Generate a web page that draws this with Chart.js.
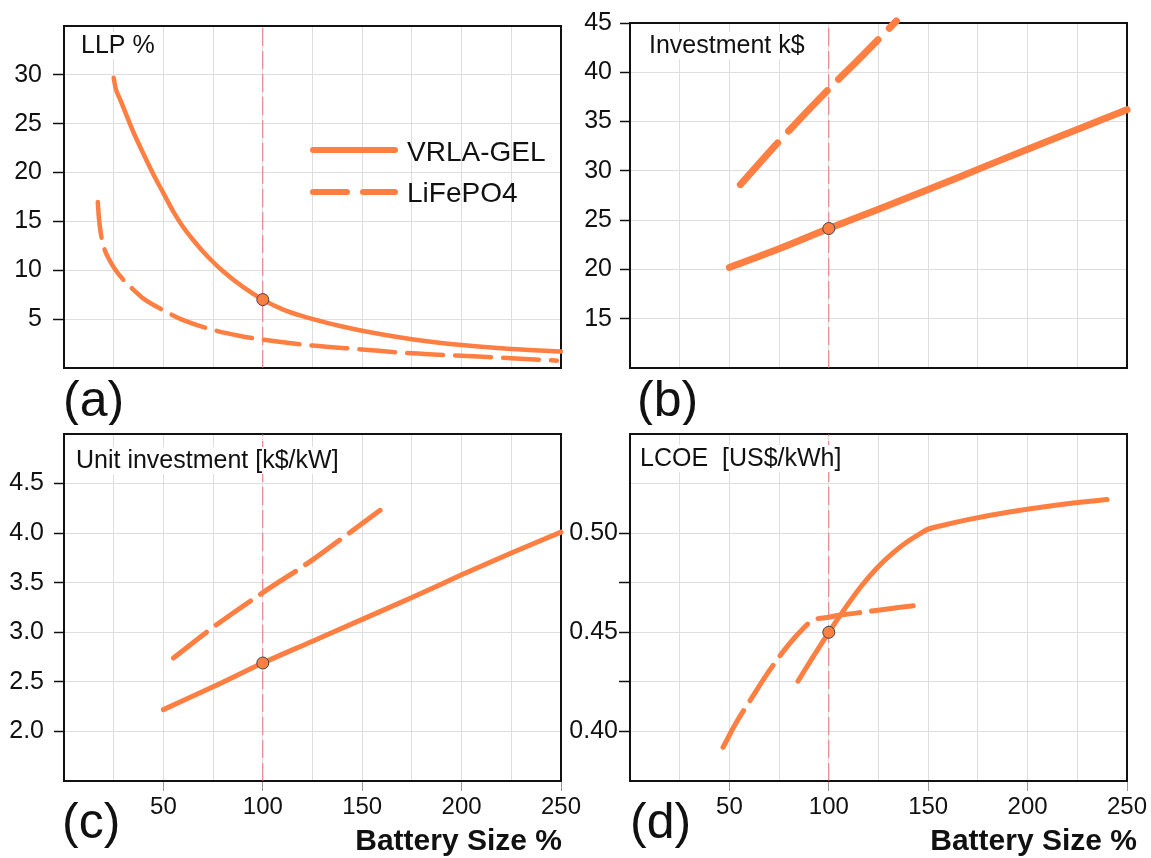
<!DOCTYPE html>
<html>
<head>
<meta charset="utf-8">
<script src="https://cdn.jsdelivr.net/npm/chart.js@4.4.0/dist/chart.umd.min.js"></script>
<style>
  html, body { margin: 0; padding: 0; background: #ffffff; }
  #wrap { position: relative; width: 1151px; height: 858px; overflow: hidden; background: #fff; }
  canvas { position: absolute; }
</style>
</head>
<body>
<div id="wrap">
  <canvas id="ca" width="600" height="425" style="left:0px;top:0px"></canvas>
  <canvas id="cb" width="591" height="425" style="left:560px;top:0px"></canvas>
  <canvas id="cc" width="600" height="453" style="left:0px;top:405px"></canvas>
  <canvas id="cd" width="591" height="453" style="left:560px;top:405px"></canvas>
</div>
<script>
// ---------------- data ----------------
const seriesNames = ['VRLA-GEL', 'LiFePO4'];
const sizeTicks = [50, 100, 150, 200, 250];   // Battery Size % labels
const refSize = 100;                          // reference battery size

// (a) LLP %
const llpTicks = [5, 10, 15, 20, 25, 30];
const llpVrlaSize = [25, 26, 28, 30, 35, 40, 45, 50, 55, 60, 65, 70, 75, 80, 90, 100, 110, 120, 130, 140, 150, 175, 200, 225, 250];
const llpVrla     = [29.7, 28.6, 27.6, 26.6, 24.1, 21.9, 19.8, 17.9, 16.0, 14.4, 13.1, 11.9, 10.85, 9.9, 8.3, 7.0, 6.0, 5.3, 4.75, 4.25, 3.82, 2.95, 2.35, 1.95, 1.7];
const llpLfpSize  = [17, 17.5, 18.5, 20, 23, 26, 30, 35, 40, 50, 60, 75, 88, 100, 125, 150, 175, 200, 225, 248];
const llpLfp      = [17.0, 15.5, 13.8, 12.4, 11.0, 10.0, 9.0, 8.0, 7.1, 5.9, 4.9, 3.9, 3.3, 2.9, 2.3, 1.9, 1.5, 1.25, 1.0, 0.75];

// (b) Investment k$
const invTicks = [15, 20, 25, 30, 35, 40, 45];
const invVrlaSize = [50, 75, 100, 125, 150, 175, 200, 225, 250];
const invVrla     = [20.2, 22.1, 24.15, 26.1, 28.1, 30.15, 32.2, 34.2, 36.2];
const invLfpSize  = [55.5, 75, 100, 116, 134];
const invLfp      = [28.6, 33.0, 38.3, 41.5, 45.2];

// (c) Unit investment [k$/kW]
const unitTicks = [2.0, 2.5, 3.0, 3.5, 4.0, 4.5];
const unitVrlaSize = [50, 75, 100, 125, 150, 175, 200, 225, 250];
const unitVrla     = [2.22, 2.45, 2.69, 2.91, 3.13, 3.35, 3.58, 3.80, 4.01];
const unitLfpSize  = [55, 75, 100, 125, 140, 159];
const unitLfp      = [2.74, 3.05, 3.40, 3.73, 3.95, 4.23];

// (d) LCOE [US$/kWh]
const lcoeTicks = [0.40, 0.45, 0.50];
const lcoeMinorTicks = [0.425, 0.475];
const lcoeVrlaSize = [84.5, 92, 100, 108, 116, 124, 132, 140, 146, 150, 156, 170, 190, 215, 240];
const lcoeVrla     = [0.4254, 0.4375, 0.4500, 0.4618, 0.4728, 0.4822, 0.4898, 0.4960, 0.4998, 0.5020, 0.5036, 0.5068, 0.5105, 0.5142, 0.517];
const lcoeLfpSize  = [46.8, 53.6, 61, 70, 79.5, 87, 91.5, 100, 107, 120, 135, 145];
const lcoeLfp      = [0.392, 0.4047, 0.4165, 0.4305, 0.4434, 0.4518, 0.4558, 0.4576, 0.4588, 0.4605, 0.4625, 0.4637];

// ---------------- style ----------------
const FONT = "'Liberation Sans', Arial, Helvetica, sans-serif";
const ORANGE = '#FF7F43';
const REF_RED = 'rgba(236,95,95,0.85)';
const GRID = '#dedede';
const INK = '#111111';

function pts(xs, ys) { return xs.map((x, i) => ({ x: x, y: ys[i] })); }
function inSet(set, v) { return set.some(s => Math.abs(s - v) < 1e-9); }

const deco = {
  id: 'deco',
  beforeDatasetsDraw(chart) {
    const a = chart.chartArea, ctx = chart.ctx;
    ctx.save();
    ctx.strokeStyle = INK; ctx.lineWidth = 2;
    ctx.strokeRect(a.left, a.top, a.right - a.left, a.bottom - a.top);
    ctx.restore();
  },
  afterDatasetDraw(chart, args) {
    const ds = chart.data.datasets[args.index];
    if (!ds.isRef) return;
    const c = chart.options.plugins.deco, ctx = chart.ctx;
    ctx.save();
    ctx.font = '25px ' + FONT;
    const w = ctx.measureText(c.title).width;
    ctx.fillStyle = '#fff';
    ctx.fillRect(c.titleX - 3, c.titleY - 21, w + 6, 27);
    ctx.fillStyle = INK; ctx.textBaseline = 'alphabetic'; ctx.textAlign = 'left';
    ctx.fillText(c.title, c.titleX, c.titleY);
    ctx.restore();
  },
  afterDraw(chart) {
    const c = chart.options.plugins.deco, ctx = chart.ctx;
    ctx.save();
    ctx.fillStyle = INK; ctx.textBaseline = 'alphabetic'; ctx.textAlign = 'left';
    ctx.font = '50px ' + FONT;
    ctx.fillText(c.letter, c.letterX, c.letterY);
    if (c.xlabel) {
      ctx.font = 'bold 30px ' + FONT;
      ctx.textAlign = 'right';
      ctx.fillText(c.xlabel, c.xlabelX, c.xlabelY);
    }
    if (c.legend) {
      ctx.strokeStyle = ORANGE; ctx.lineWidth = 6; ctx.lineCap = 'round';
      ctx.beginPath(); ctx.moveTo(313, 150); ctx.lineTo(395, 150); ctx.stroke();
      ctx.setLineDash([34, 16]);
      ctx.beginPath(); ctx.moveTo(313, 192); ctx.lineTo(395, 192); ctx.stroke();
      ctx.setLineDash([]);
      ctx.fillStyle = INK; ctx.textAlign = 'left';
      ctx.font = '28px ' + FONT;
      ctx.fillText(seriesNames[0], 407, 161);
      ctx.fillText(seriesNames[1], 407, 202);
    }
    ctx.restore();
  }
};

function makeChart(id, p) {
  const datasets = [
    { label: 'ref', isRef: true, data: [{ x: refSize, y: p.yMin }, { x: refSize, y: p.yMax }],
      borderColor: REF_RED, borderWidth: 1, borderDash: [18, 5], pointRadius: 0, order: 10, tension: 0 },
    { label: seriesNames[1], data: pts(p.lfpX, p.lfpY), borderColor: ORANGE, borderWidth: p.lw,
      borderDash: p.dash, borderCapStyle: 'round', borderJoinStyle: 'round', pointRadius: 0,
      cubicInterpolationMode: 'monotone', order: 1, clip: false },
    { label: seriesNames[0], data: pts(p.vrlaX, p.vrlaY), borderColor: ORANGE, borderWidth: p.lw,
      borderCapStyle: 'round', borderJoinStyle: 'round',
      pointRadius: ctx => (ctx.raw && ctx.raw.x === refSize) ? 6 : 0,
      pointBackgroundColor: ORANGE, pointBorderColor: '#444', pointBorderWidth: 1,
      cubicInterpolationMode: 'monotone', order: 0, clip: false }
  ];
  return new Chart(document.getElementById(id), {
    type: 'line',
    data: { datasets },
    plugins: [deco],
    options: {
      responsive: false, animation: false, events: [],
      layout: { padding: p.padding },
      plugins: {
        legend: { display: false }, tooltip: { enabled: false },
        deco: p.deco
      },
      scales: {
        x: {
          type: 'linear', min: 0, max: 250,
          afterFit(s) { s.height = p.xH; },
          border: { display: false },
          grid: { color: GRID, lineWidth: 1, drawTicks: p.xLabels, tickLength: 10,
                  tickColor: ctx => (ctx.tick && inSet(sizeTicks, ctx.tick.value)) ? '#999' : 'rgba(0,0,0,0)' },
          ticks: { display: p.xLabels, stepSize: 25, autoSkip: false, maxRotation: 0, padding: 2,
                   color: INK, font: { family: FONT, size: 24 },
                   callback: v => inSet(sizeTicks, v) ? String(v) : '' }
        },
        y: {
          type: 'linear', min: p.yMin, max: p.yMax,
          afterFit(s) { s.width = p.leftW; },
          border: { display: false },
          grid: { color: GRID, lineWidth: 1, tickLength: p.tickLen, tickWidth: 1.5,
                  tickColor: ctx => (ctx.tick && inSet(p.yMarks, ctx.tick.value)) ? INK : 'rgba(0,0,0,0)' },
          ticks: { stepSize: p.yStep, autoSkip: false, padding: p.tickPad, color: INK,
                   font: { family: FONT, size: 25 },
                   callback: v => inSet(p.yLabels, v) ? p.fmt(v) : '' }
        }
      }
    }
  });
}

makeChart('ca', {
  vrlaX: llpVrlaSize, vrlaY: llpVrla, lfpX: llpLfpSize, lfpY: llpLfp,
  yMin: 0, yMax: 35, yStep: 5, yLabels: llpTicks, yMarks: llpTicks, fmt: v => String(v),
  leftW: 64, tickLen: 11, tickPad: 11, padding: { top: 22, right: 39, bottom: 57, left: 0 },
  xLabels: false, xH: 0, lw: 4.5, dash: [36, 12],
  deco: { title: 'LLP %', titleX: 81, titleY: 53, letter: '(a)', letterX: 63, letterY: 416, legend: true }
});

makeChart('cb', {
  vrlaX: invVrlaSize, vrlaY: invVrla, lfpX: invLfpSize, lfpY: invLfp,
  yMin: 10, yMax: 45, yStep: 5, yLabels: invTicks, yMarks: invTicks, fmt: v => String(v),
  leftW: 70, tickLen: 10, tickPad: 8, padding: { top: 22, right: 24, bottom: 57, left: 0 },
  xLabels: false, xH: 0, lw: 7, dash: [56, 16],
  deco: { title: 'Investment k$', titleX: 89, titleY: 53, letter: '(b)', letterX: 77, letterY: 416 }
});

makeChart('cc', {
  vrlaX: unitVrlaSize, vrlaY: unitVrla, lfpX: unitLfpSize, lfpY: unitLfp,
  yMin: 1.5, yMax: 5.0, yStep: 0.5, yLabels: unitTicks, yMarks: unitTicks, fmt: v => v.toFixed(1),
  leftW: 64, tickLen: 10, tickPad: 10, padding: { top: 29, right: 39, bottom: 0, left: 0 },
  xLabels: true, xH: 77, lw: 5, dash: [42, 12],
  deco: { title: 'Unit investment [k$/kW]', titleX: 76, titleY: 63, letter: '(c)', letterX: 62, letterY: 433,
          xlabel: 'Battery Size %', xlabelX: 562, xlabelY: 445 }
});

makeChart('cd', {
  vrlaX: lcoeVrlaSize, vrlaY: lcoeVrla, lfpX: lcoeLfpSize, lfpY: lcoeLfp,
  yMin: 0.375, yMax: 0.55, yStep: 0.025, yLabels: lcoeTicks, yMarks: lcoeTicks.concat(lcoeMinorTicks), fmt: v => v.toFixed(2),
  leftW: 70, tickLen: 11, tickPad: 1, padding: { top: 29, right: 24, bottom: 0, left: 0 },
  xLabels: true, xH: 77, lw: 5, dash: [42, 12],
  deco: { title: 'LCOE  [US$/kWh]', titleX: 80, titleY: 61, letter: '(d)', letterX: 70, letterY: 433,
          xlabel: 'Battery Size %', xlabelX: 577, xlabelY: 445 }
});
</script>
</body>
</html>
